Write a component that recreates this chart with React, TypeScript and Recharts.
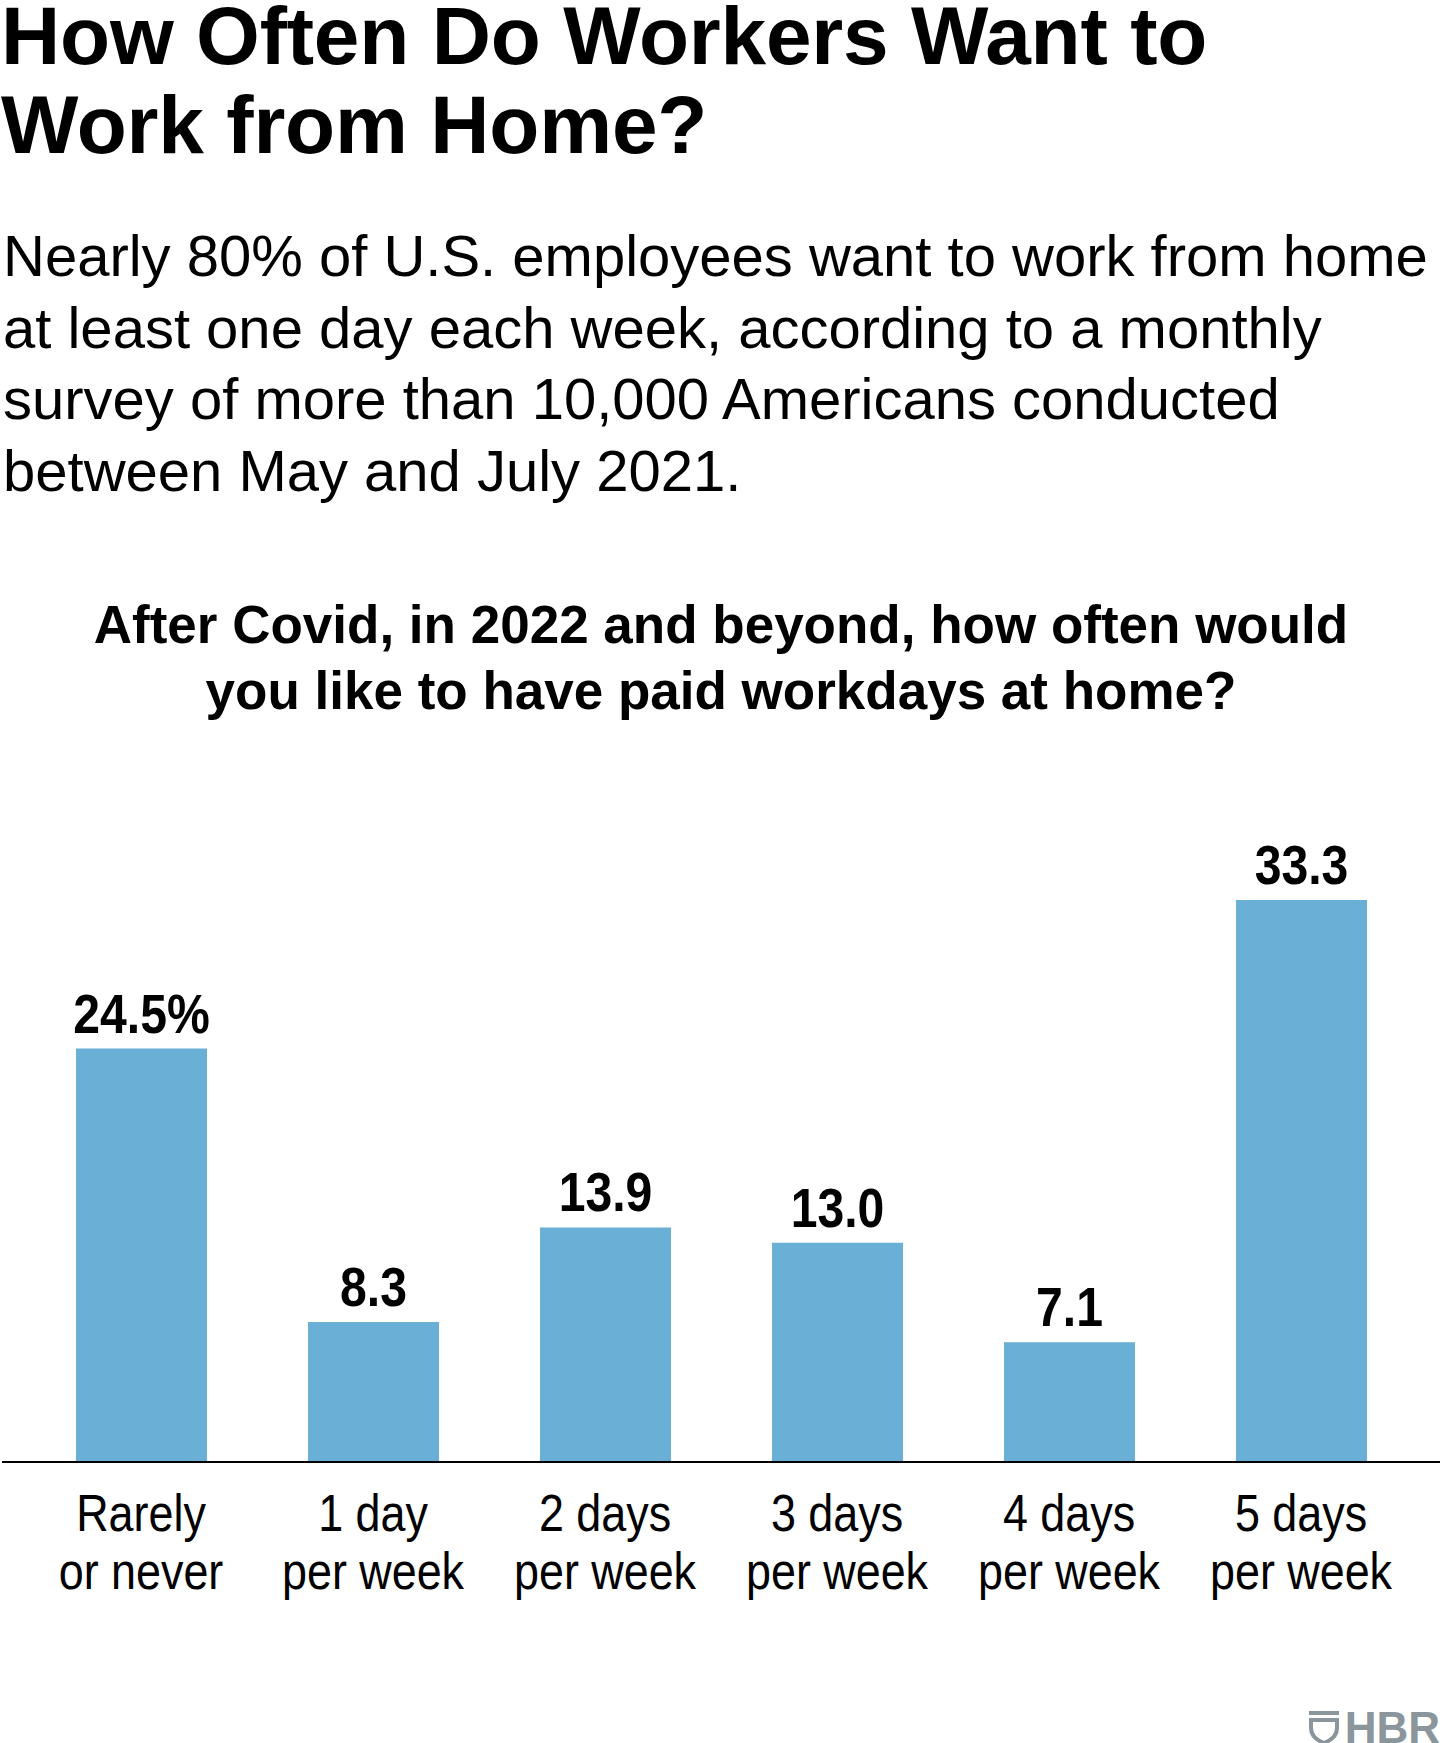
import { BarChart, Bar, XAxis, YAxis, LabelList } from 'recharts'

// survey answers, share of respondents (%)
const categories = ['Rarely|or never', '1 day|per week', '2 days|per week', '3 days|per week', '4 days|per week', '5 days|per week']
const shares = [24.5, 8.3, 13.9, 13.0, 7.1, 33.3]

const titleLines = ['How Often Do Workers Want to', 'Work from Home?']
const subtitleLines = [
  'Nearly 80% of U.S. employees want to work from home',
  'at least one day each week, according to a monthly',
  'survey of more than 10,000 Americans conducted',
  'between May and July 2021.',
]
const questionLines = ['After Covid, in 2022 and beyond, how often would', 'you like to have paid workdays at home?']

const BAR_COLOR = '#69afd6'
const W = 1440
const H = 1743

const data = categories.map((c, i) => ({ name: c, share: shares[i] }))

// tick labels are set in a condensed face; fake it with a horizontal squeeze
const CategoryTick = (props: any) => {
  const { x, y, payload } = props
  const lines = String(payload.value).split('|')
  return (
    <g transform={`translate(${x},${y}) scale(0.88,1)`}>
      {lines.map((l, i) => (
        <text
          key={i}
          x={0}
          y={61 + i * 58}
          textAnchor="middle"
          fontFamily="'Liberation Sans', Arial, sans-serif"
          fontSize={51}
          fill="#000"
        >
          {l}
        </text>
      ))}
    </g>
  )
}

const ValueLabel = (props: any) => {
  const { x, y, width, value, index } = props
  const txt = value.toFixed(1) + (index === 0 ? '%' : '')
  return (
    <g transform={`translate(${x + width / 2},${y - 16}) scale(0.86,1)`}>
      <text
        x={0}
        y={0}
        textAnchor="middle"
        fontFamily="'Liberation Sans', Arial, sans-serif"
        fontWeight="bold"
        fontSize={56}
        fill="#000"
      >
        {txt}
      </text>
    </g>
  )
}

export default function App() {
  return (
    <div style={{ position: 'relative', width: W, height: H, background: '#fff', overflow: 'hidden' }}>
      <style>{'body{margin:0}'}</style>
      <div style={{ position: 'absolute', left: 0, top: 0 }}>
        <BarChart
          width={W}
          height={H}
          data={data}
          margin={{ top: 787, right: 0, bottom: 141, left: 2 }}
        >
          <XAxis
            dataKey="name"
            height={140}
            interval={0}
            tickLine={false}
            axisLine={{ stroke: '#000', strokeWidth: 2 }}
            padding={{ left: 23, right: 23 }}
            tick={<CategoryTick />}
          />
          <YAxis hide domain={[0, 40]} />
          <Bar dataKey="share" fill={BAR_COLOR} barSize={131} isAnimationActive={false}>
            <LabelList dataKey="share" content={<ValueLabel />} />
          </Bar>
        </BarChart>
      </div>
      <svg width={W} height={H} style={{ position: 'absolute', left: 0, top: 0, pointerEvents: 'none' }}>
        {titleLines.map((t, i) => (
          <text
            key={t}
            x={1}
            y={64 + i * 89}
            fontFamily="'Liberation Sans', Arial, sans-serif"
            fontWeight="bold"
            fontSize={82}
            letterSpacing={-0.2}
            fill="#000"
          >
            {t}
          </text>
        ))}
        {subtitleLines.map((t, i) => (
          <text
            key={t}
            x={3}
            y={276 + i * 71.5}
            fontFamily="'Liberation Sans', Arial, sans-serif"
            fontSize={58}
            fill="#000"
          >
            {t}
          </text>
        ))}
        {questionLines.map((t, i) => (
          <text
            key={t}
            x={721}
            y={643 + i * 66}
            textAnchor="middle"
            fontFamily="'Liberation Sans', Arial, sans-serif"
            fontWeight="bold"
            fontSize={53}
            fill="#000"
          >
            {t}
          </text>
        ))}
        {/* HBR mark */}
        <g fill="none" stroke="#8a959c" strokeWidth={4}>
          <line x1={1309} y1={1713} x2={1339} y2={1713} />
          <path d="M1311 1720 L1337 1720 L1337 1728 Q1337 1738 1324 1743 Q1311 1738 1311 1728 Z" />
        </g>
        <text
          x={1440}
          y={1743}
          textAnchor="end"
          fontFamily="'Liberation Sans', Arial, sans-serif"
          fontWeight="bold"
          fontSize={44}
          fill="#8a959c"
        >
          HBR
        </text>
      </svg>
    </div>
  )
}
